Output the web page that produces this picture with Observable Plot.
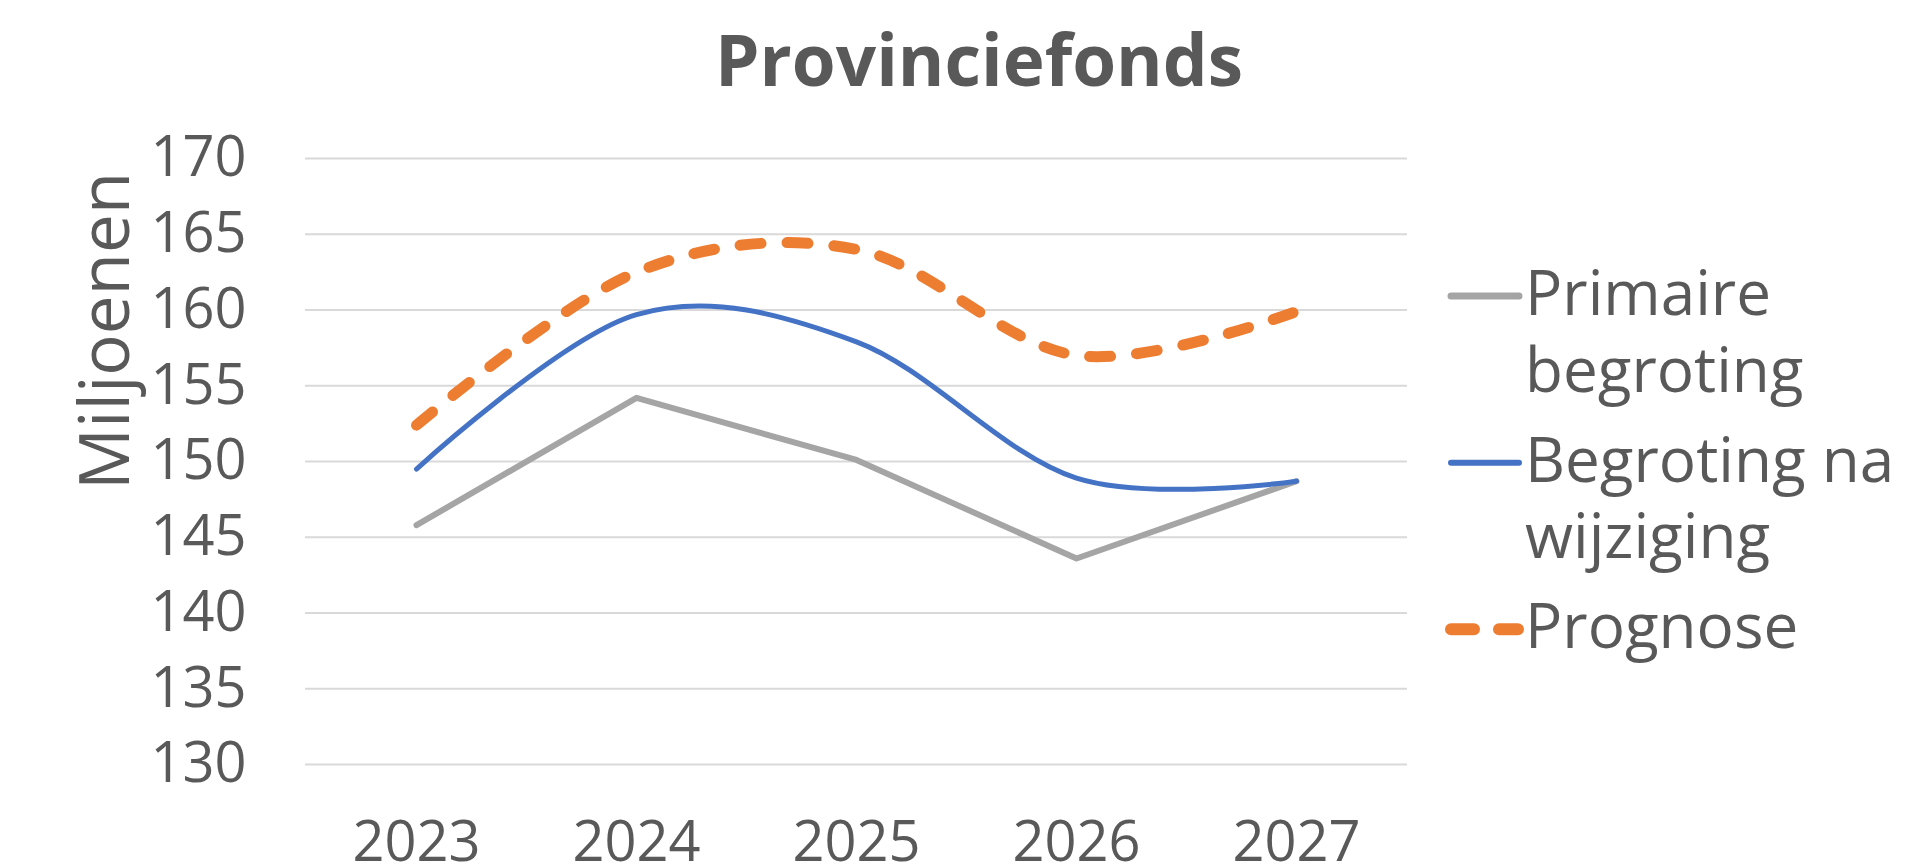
<!DOCTYPE html>
<html>
<head>
<meta charset="utf-8">
<script src="https://cdn.jsdelivr.net/npm/d3@7"></script>
<script src="https://cdn.jsdelivr.net/npm/@observablehq/plot@0.6"></script>
<style>
  html, body { margin: 0; padding: 0; background: #fff; }
  #wrap { position: relative; width: 1907px; height: 867px; overflow: hidden; }
  #overlay { position: absolute; left: 0; top: 0; pointer-events: none; }
  svg text { font-family: "Open Sans", sans-serif; }
</style>
</head>
<body>
<div id="wrap"></div>
<script>
// ---- data ----
const years = ["2023", "2024", "2025", "2026", "2027"];
const primaire = [145.8, 154.2, 150.1, 143.6, 148.7];
const begroting = [149.5, 159.7, 157.9, 148.9, 148.7];
const prognose = [152.4, 162.5, 164.0, 157.0, 159.9];
const yTicks = [130, 135, 140, 145, 150, 155, 160, 165, 170];
const seriesNames = ["Primaire begroting", "Begroting na wijziging", "Prognose"];
const legendLines = [["Primaire", "begroting"], ["Begroting na", "wijziging"], ["Prognose"]];
const title = "Provinciefonds";
const yLabel = "Miljoenen";

const colors = ["#A5A5A5", "#4472C4", "#ED7D31"];
const text = "#595959";

const table = [];
[primaire, begroting, prognose].forEach((vals, s) => {
  vals.forEach((v, i) => table.push({ year: years[i], value: v, series: seriesNames[s] }));
});

const chart = Plot.plot({
  width: 1907,
  height: 867,
  marginLeft: 305,
  marginRight: 500,
  marginTop: 158,
  marginBottom: 103,
  style: { fontFamily: "Open Sans, sans-serif", color: text, background: "transparent", overflow: "visible" },
  x: { type: "point", domain: years, padding: 0.5, axis: null },
  y: { domain: [130, 170], axis: null },
  marks: [
    Plot.gridY(yTicks, { stroke: "#D9D9D9", strokeOpacity: 1, strokeWidth: 2 }),
    Plot.axisY(yTicks, { tickSize: 0, tickPadding: 59, fontSize: 56, fill: text, label: null }),
    Plot.axisX(years, { tickSize: 0, tickPadding: 57, fontSize: 56, fill: text, label: null }),
    Plot.line(table.filter(d => d.series === seriesNames[0]), {
      x: "year", y: "value", stroke: colors[0], strokeWidth: 6, strokeLinecap: "round", strokeLinejoin: "round", curve: "linear"
    }),
    Plot.line(table.filter(d => d.series === seriesNames[1]), {
      x: "year", y: "value", stroke: colors[1], strokeWidth: 5, strokeLinecap: "round", curve: "cardinal"
    }),
    Plot.line(table.filter(d => d.series === seriesNames[2]), {
      x: "year", y: "value", stroke: colors[2], strokeWidth: 11, strokeLinecap: "round",
      strokeDasharray: "21,26", curve: "cardinal"
    })
  ]
});
document.getElementById("wrap").appendChild(chart);

// ---- overlay: title, axis title, legend ----
const svg = d3.select("#wrap").append("svg")
  .attr("id", "overlay").attr("width", 1907).attr("height", 867);

svg.append("text")
  .attr("x", 979).attr("y", 86)
  .attr("text-anchor", "middle")
  .attr("font-size", 71).attr("font-weight", 700)
  .attr("fill", text)
  .text(title);

svg.append("text")
  .attr("transform", "translate(129,331) rotate(-90)")
  .attr("text-anchor", "middle")
  .attr("font-size", 69)
  .attr("fill", text)
  .text(yLabel);

const entryBaselines = [315, 481.7, 648.3];
const lineStep = 76.7;
legendLines.forEach((lines, i) => {
  const base = entryBaselines[i];
  const sy = base - 19;
  const sw = svg.append("line")
    .attr("x1", 1451).attr("x2", 1519)
    .attr("y1", sy).attr("y2", sy)
    .attr("stroke", colors[i])
    .attr("stroke-linecap", "round");
  if (i === 0) sw.attr("stroke-width", 7);
  if (i === 1) sw.attr("stroke-width", 6);
  if (i === 2) sw.attr("x1", 1451).attr("x2", 1518).attr("stroke-width", 12).attr("stroke-dasharray", "23,25");
  lines.forEach((t, j) => {
    svg.append("text")
      .attr("x", 1525).attr("y", base + j * lineStep)
      .attr("font-size", 62).attr("fill", text)
      .text(t);
  });
});
</script>
</body>
</html>
